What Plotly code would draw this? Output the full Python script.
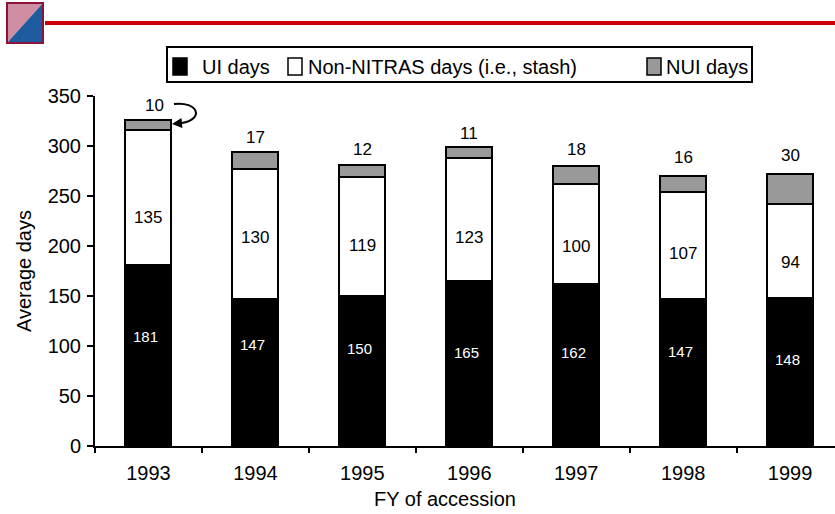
import plotly.graph_objects as go

# values
years = ["1993", "1994", "1995", "1996", "1997", "1998", "1999"]
ui_days = [181, 147, 150, 165, 162, 147, 148]
stash_days = [135, 130, 119, 123, 100, 107, 94]
nui_days = [10, 17, 12, 11, 18, 16, 30]
series_names = ["UI days", "Non-NITRAS days (i.e., stash)", "NUI days"]
y_ticks = [0, 50, 100, 150, 200, 250, 300, 350]

# where the value labels sit (in axis units), as in the original slide
ui_label_y = [110, 102, 98, 94, 94, 95, 87]
stash_label_y = [229, 209, 201, 209, 200, 193, 184]
nui_label_y = [341, 309, 297, 313, 297, 289, 291]

FONT = "Liberation Sans, Arial, sans-serif"
W, H = 835, 514
L, R, T, B = 95, 0, 96, 68


def px(x):
    # pixel -> paper x
    return (x - L) / (W - L - R)


def py(y):
    # pixel -> paper y
    return (H - B - y) / (H - T - B)


fig = go.Figure()
colors = ["black", "white", "#999999"]
for name, vals, col in zip(series_names, [ui_days, stash_days, nui_days], colors):
    fig.add_trace(go.Bar(x=years, y=vals, name=name, width=0.43,
                         marker=dict(color=col, line=dict(color="black", width=2)),
                         showlegend=False, hoverinfo="skip"))

annos = []
for i in range(len(years)):
    # category axis -> annotations take the category index
    annos.append(dict(x=i, y=ui_label_y[i], text=str(ui_days[i]), showarrow=False,
                      xshift=-3, font=dict(size=15, color="white")))
    annos.append(dict(x=i, y=stash_label_y[i], text=str(stash_days[i]), showarrow=False,
                      font=dict(size=17, color="black")))
    annos.append(dict(x=i, y=nui_label_y[i], text=str(nui_days[i]), showarrow=False,
                      xshift=6 if i == 0 else 0, font=dict(size=17, color="black")))

# curved arrow pointing at the small 1993 NUI segment
annos.append(dict(x=0.22, y=322, xref="x", yref="y", ax=0.32, ay=323, axref="x", ayref="y",
                  text="", showarrow=True, arrowhead=2, arrowsize=1, arrowwidth=2,
                  arrowcolor="black", standoff=0))

# axis titles
annos.append(dict(x=px(445), y=py(499), xref="paper", yref="paper", text="FY of accession",
                  xanchor="center", yanchor="middle", showarrow=False, font=dict(size=20)))
annos.append(dict(x=px(24), y=py(271), xref="paper", yref="paper", text="Average days",
                  xanchor="center", yanchor="middle", textangle=-90, showarrow=False,
                  font=dict(size=20)))

# legend text
legend_x = [200, 306, 664]
for name, lx in zip(series_names, legend_x):
    annos.append(dict(x=px(lx), y=py(67), xref="paper", yref="paper", text=name,
                      xanchor="left", yanchor="middle", showarrow=False, font=dict(size=20)))

shapes = [
    # arrow curve
    dict(type="path", xref="x", yref="y",
         path="M 0.2385,342 C 0.46,345 0.53,327 0.31,323",
         line=dict(color="black", width=2)),
    # legend box
    dict(type="rect", xref="paper", yref="paper", x0=px(167), x1=px(752), y0=py(47), y1=py(82),
         line=dict(color="black", width=2), fillcolor="white", layer="below"),
    # red header rule
    dict(type="rect", xref="paper", yref="paper", x0=px(45), x1=px(835), y0=py(21), y1=py(25),
         line=dict(width=0), fillcolor="#cc0000"),
    # logo
    dict(type="path", xref="paper", yref="paper",
         path=f"M {px(7)},{py(43)} L {px(7)},{py(3)} L {px(43)},{py(3)} Z",
         line=dict(width=0), fillcolor="#d08ea2"),
    dict(type="path", xref="paper", yref="paper",
         path=f"M {px(7)},{py(43)} L {px(43)},{py(3)} L {px(43)},{py(43)} Z",
         line=dict(width=0), fillcolor="#1d5a9e"),
    dict(type="rect", xref="paper", yref="paper", x0=px(7), x1=px(43), y0=py(43), y1=py(3),
         line=dict(color="#8b1538", width=2)),
]
swatch_x = [173, 288, 647]
for sx, col in zip(swatch_x, colors):
    shapes.append(dict(type="rect", xref="paper", yref="paper", x0=px(sx), x1=px(sx + 14),
                       y0=py(58), y1=py(75), fillcolor=col, line=dict(color="black", width=1.5)))

fig.update_layout(
    barmode="stack",
    width=W, height=H,
    margin=dict(l=L, r=R, t=T, b=B),
    paper_bgcolor="white", plot_bgcolor="white",
    font=dict(family=FONT, size=20, color="black"),
    annotations=annos,
    shapes=shapes,
    xaxis=dict(type="category", range=[-0.5, 6.42], tickson="boundaries", ticks="outside",
               ticklen=5, tickwidth=2, tickcolor="black", showline=True, linewidth=2,
               linecolor="black", showgrid=False, ticklabelstandoff=8),
    yaxis=dict(range=[0, 350], tickvals=y_ticks, ticks="outside", ticklen=6, tickwidth=2,
               tickcolor="black", showline=True, linewidth=2, linecolor="black",
               showgrid=False, zeroline=False, ticklabelstandoff=2),
)

# drop the default 8px body margin so the figure sits at the window's corner
fig.write_html("out.html", config={"displayModeBar": False},
               post_script="document.body.style.margin='0';")
